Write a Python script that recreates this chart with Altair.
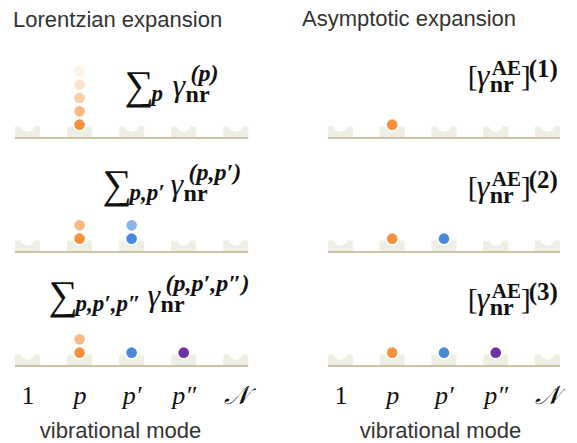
import altair as alt
import pandas as pd

# ---------------- data ----------------
mode_index = [1, 2, 3, 4, 5]
mode_labels = ["1", "p", "p′", "p″", "𝒩"]
excited_modes = ["p", "p′", "p″"]            # sit on modes 2, 3, 4
mode_colors = ["#F7913D", "#4A89DA", "#7031A2"]
lorentz_counts = [[5, 0, 0], [2, 2, 0], [2, 1, 1]]   # stacked dots on p, p′, p″ for each order
ae_counts = [[1, 0, 0], [1, 1, 0], [1, 1, 1]]
level_values = [0, 1, 2, 3, 4]
level_opacity = [1.0, 0.64, 0.46, 0.26, 0.12]

column_titles = ["Lorentzian expansion", "Asymptotic expansion"]
x_title = "vibrational mode"
sum_symbol = "∑"
gamma_symbol = "γ"
nr_label = "nr"
ae_label = "AE"
open_bracket = "["
close_bracket = "]"
sum_subscripts = ["p", "p,p′", "p,p′,p″"]
lorentz_superscripts = ["(p)", "(p,p′)", "(p,p′,p″)"]
ae_superscripts = ["(1)", "(2)", "(3)"]

# ---------------- styling ----------------
PX_PER_MODE = 54.0
W_LEFT, W_RIGHT, H = 279, 242, 80
PX_PER_UNIT = H / 6.0
HALF_WELL = 0.24
X_LO = 1 - HALF_WELL
YS = alt.Scale(domain=[0, 6], nice=False, zero=False)
SERIF = "Liberation Serif, DejaVu Serif, serif"
SANS = "Liberation Sans, Helvetica, Arial, sans-serif"
WELL = "#EFEEE5"
BASE = "#CBC3A3"
INK = "#111111"

wells_df = pd.DataFrame({"mode": mode_index, "label": mode_labels})


def dots_frame(counts):
    rows = []
    for j, name in enumerate(excited_modes):
        for lev in range(counts[j]):
            rows.append({"mode": mode_index[j + 1], "name": name, "level": lev})
    return pd.DataFrame(rows)


def piece(text, ax, ay, dx, dy, size, style="normal", weight="normal"):
    return alt.Chart(pd.DataFrame({"t": [text], "ax": [ax], "ay": [ay]})).mark_text(
        align="left", baseline="alphabetic", dx=dx, dy=dy, font=SERIF,
        fontSize=size, fontStyle=style, fontWeight=weight, color=INK
    ).encode(x=alt.X("ax:Q"), y=alt.Y("ay:Q"), text="t:N")


label_expr = "[" + ",".join("'%s'" % l for l in mode_labels) + "][datum.value - 1]"


def make_axis(title_x):
    return alt.Axis(
        values=mode_index, labelExpr=label_expr, domain=False, ticks=False,
        tickSize=0, grid=False, labelPadding=37, labelBaseline="alphabetic",
        labelFont=SERIF, labelFontSize=26, labelColor=INK,
        labelFontStyle={"condition": {"test": "datum.value == 1", "value": "normal"},
                        "value": "italic"},
        labelFlush=False, labelOverlap=False,
        title=x_title, titleFont=SANS, titleFontSize=22, titleFontWeight="normal",
        titleColor="#333333", titleX=title_x, titleY=71, titleBaseline="alphabetic",
        titleAlign="center",
    )


def panel(counts, col, row):
    width = W_LEFT if col == 0 else W_RIGHT
    xs = alt.Scale(domain=[X_LO, X_LO + width / PX_PER_MODE], nice=False, zero=False)
    bottom = row == 2
    axis = make_axis(110 if col == 0 else 117) if bottom else None
    x = alt.X("mode:Q", scale=xs, axis=axis)

    wells = alt.Chart(wells_df).transform_calculate(
        lo="0.08", hi="0.86").mark_bar(size=25, color=WELL).encode(
        x=x, y=alt.Y("lo:Q", scale=YS, axis=None), y2="hi:Q")
    rule = alt.Chart(wells_df).transform_aggregate(
        first="min(mode)", last="max(mode)"
    ).transform_calculate(
        r0="datum.first - %s" % HALF_WELL, r1="datum.last + %s" % HALF_WELL, base="0"
    ).mark_rule(color=BASE, strokeWidth=2).encode(
        x=alt.X("r0:Q"), x2="r1:Q", y=alt.Y("base:Q"))
    notch = alt.Chart(wells_df).transform_calculate(c="1").mark_circle(
        color="white", opacity=1, size=200).encode(x=alt.X("mode:Q"), y=alt.Y("c:Q"))
    dots = alt.Chart(dots_frame(counts)).transform_calculate(
        ypos="datum.level + 1").mark_circle(size=113).encode(
        x=alt.X("mode:Q"),
        y=alt.Y("ypos:Q"),
        color=alt.Color("name:N", scale=alt.Scale(domain=excited_modes, range=mode_colors),
                        legend=None),
        opacity=alt.Opacity("level:Q", scale=alt.Scale(domain=level_values, range=level_opacity),
                            legend=None),
    )

    if col == 0:
        y = [42, 57, 60][row] / PX_PER_UNIT
        sdx = [45, 23, -31][row]
        gdx = [93, 91, 68][row]
        texts = [
            piece(sum_symbol, 2, y, sdx, 3, 41),
            piece(sum_subscripts[row], 2, y, sdx + 27, 5, 23, "italic", "bold"),
            piece(gamma_symbol, 2, y, gdx, 0, 32, "italic"),
            piece(nr_label, 2, y, gdx + 13, 6, 24, "normal", "bold"),
            piece(lorentz_superscripts[row], 2, y, gdx + 18, -15, 24, "italic", "bold"),
        ]
    else:
        y = [52, 55, 57][row] / PX_PER_UNIT
        texts = [
            piece(open_bracket, 4, y, -28, 0, 30),
            piece(gamma_symbol, 4, y, -19, 0, 32, "italic"),
            piece(ae_label, 4, y, -4, -11, 21, "normal", "bold"),
            piece(nr_label, 4, y, -6, 6, 24, "normal", "bold"),
            piece(close_bracket, 4, y, 25, 0, 30),
            piece(ae_superscripts[row], 4, y, 33, -9, 25, "normal", "bold"),
        ]

    ch = alt.layer(wells, rule, notch, dots, *texts).properties(width=width, height=H)
    if row == 0:
        ch = ch.properties(title=alt.TitleParams(
            column_titles[col], anchor="start", dx=3 if col == 0 else -21, offset=9,
            baseline="alphabetic", fontSize=22, font=SANS, fontWeight="normal",
            color="#333333"))
    return ch


panels = []
for r in range(3):
    panels.append(panel(lorentz_counts[r], 0, r))
    panels.append(panel(ae_counts[r], 1, r))

chart = alt.concat(
    *panels, columns=2, spacing=34, bounds="flush"
).properties(
    padding={"left": 2, "top": 0, "right": 0, "bottom": 0}
).configure_view(stroke=None)

chart.save("out.html", embed_options={"renderer": "svg", "actions": False})
